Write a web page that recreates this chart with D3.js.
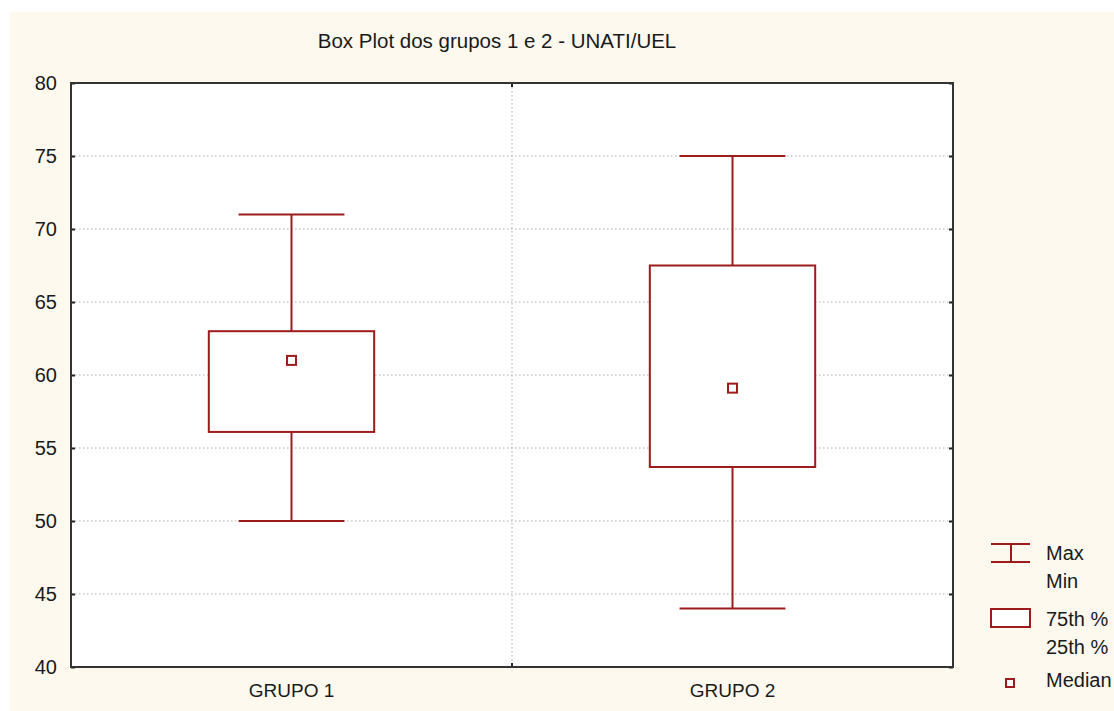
<!DOCTYPE html>
<html><head><meta charset="utf-8">
<script src="https://cdn.jsdelivr.net/npm/d3@7"></script>
<style>body{margin:0;background:#fff}svg{display:block}text{font-family:"Liberation Sans",Arial,sans-serif;fill:#1a1a1a}</style>
</head><body>
<script>
const title = "Box Plot dos grupos 1 e 2 - UNATI/UEL";
const categories = ["GRUPO 1", "GRUPO 2"];
const maxVals = [71, 75];
const q3Vals = [63, 67.5];
const medianVals = [61, 59.1];
const q1Vals = [56.1, 53.7];
const minVals = [50, 44];
const yTicks = [40, 45, 50, 55, 60, 65, 70, 75, 80];
const legendLabels = [["Max", "Min"], ["75th %", "25th %"], ["Median"]];

const W = 1114, H = 711;
const red = "#9e1b1b";
const svg = d3.select("body").append("svg").attr("width", W).attr("height", H);
svg.append("rect").attr("x", 10).attr("y", 12).attr("width", W - 10).attr("height", H - 12).attr("fill", "#fdf9ef");

const m = {l: 71, t: 83, r: 953, b: 667};
const y = d3.scaleLinear().domain([40, 80]).range([m.b, m.t]);
const x = d3.scaleBand().domain(categories).range([m.l, m.r]);

svg.append("rect").attr("x", m.l).attr("y", m.t).attr("width", m.r - m.l).attr("height", m.b - m.t).attr("fill", "#fff");

// grid
svg.append("g").selectAll("line").data(yTicks.slice(1, -1)).join("line")
  .attr("x1", m.l).attr("x2", m.r).attr("y1", d => y(d)).attr("y2", d => y(d))
  .attr("stroke", "#adadad").attr("stroke-width", 1).attr("stroke-dasharray", "1.5,2.5");
svg.append("line").attr("x1", m.l + x.step()).attr("x2", m.l + x.step()).attr("y1", m.t).attr("y2", m.b)
  .attr("stroke", "#adadad").attr("stroke-width", 1).attr("stroke-dasharray", "1.5,2.5");

// axes
const yAxis = svg.append("g").attr("transform", `translate(${m.l},0)`)
  .call(d3.axisLeft(y).tickValues(yTicks).tickSize(-4).tickPadding(14));
yAxis.select(".domain").remove();
yAxis.selectAll("text").style("font-size", "20px").attr("fill", "#1a1a1a");
yAxis.selectAll("line").attr("stroke", "#222").attr("stroke-width", 2);
const yAxisR = svg.append("g").attr("transform", `translate(${m.r},0)`)
  .call(d3.axisRight(y).tickValues(yTicks).tickSize(-4).tickFormat(""));
yAxisR.select(".domain").remove();
yAxisR.selectAll("line").attr("stroke", "#222").attr("stroke-width", 2);

const xAxis = svg.append("g").attr("transform", `translate(0,${m.b})`)
  .call(d3.axisBottom(x).tickSize(0).tickPadding(17));
xAxis.select(".domain").remove();
xAxis.selectAll("text").style("font-size", "19px").attr("fill", "#1a1a1a");
[m.t, m.b].forEach((yy, i) => {
  svg.append("line").attr("x1", m.l + x.step()).attr("x2", m.l + x.step())
    .attr("y1", yy).attr("y2", i ? yy - 4 : yy + 4).attr("stroke", "#222").attr("stroke-width", 2);
});

svg.append("rect").attr("x", m.l).attr("y", m.t).attr("width", m.r - m.l).attr("height", m.b - m.t)
  .attr("fill", "none").attr("stroke", "#333").attr("stroke-width", 2);

// boxes
const data = categories.map((c, i) => ({c, max: maxVals[i], q3: q3Vals[i], med: medianVals[i], q1: q1Vals[i], min: minVals[i]}));
const bw = x.bandwidth() * 0.375, cw = x.bandwidth() * 0.24;
const g = svg.append("g").attr("stroke", red).attr("stroke-width", 2).attr("fill", "none");
data.forEach(d => {
  const cx = x(d.c) + x.bandwidth() / 2;
  g.append("line").attr("x1", cx).attr("x2", cx).attr("y1", y(d.max)).attr("y2", y(d.q3));
  g.append("line").attr("x1", cx).attr("x2", cx).attr("y1", y(d.q1)).attr("y2", y(d.min));
  g.append("line").attr("x1", cx - cw / 2).attr("x2", cx + cw / 2).attr("y1", y(d.max)).attr("y2", y(d.max));
  g.append("line").attr("x1", cx - cw / 2).attr("x2", cx + cw / 2).attr("y1", y(d.min)).attr("y2", y(d.min));
  g.append("rect").attr("x", cx - bw / 2).attr("y", y(d.q3)).attr("width", bw).attr("height", y(d.q1) - y(d.q3)).attr("fill", "#fff");
  g.append("rect").attr("x", cx - 4.5).attr("y", y(d.med) - 4.5).attr("width", 9).attr("height", 9).attr("fill", "#fff");
});

// title
svg.append("text").attr("x", 497).attr("y", 48).attr("text-anchor", "middle").style("font-size", "20.5px").text(title);

// legend
const lg = svg.append("g").attr("stroke", red).attr("stroke-width", 2).attr("fill", "none");
lg.append("line").attr("x1", 991).attr("x2", 1030).attr("y1", 544).attr("y2", 544);
lg.append("line").attr("x1", 991).attr("x2", 1030).attr("y1", 562).attr("y2", 562);
lg.append("line").attr("x1", 1011).attr("x2", 1011).attr("y1", 544).attr("y2", 562);
lg.append("rect").attr("x", 991).attr("y", 609).attr("width", 39).attr("height", 18).attr("fill", "#fff");
lg.append("rect").attr("x", 1006).attr("y", 679).attr("width", 8).attr("height", 8).attr("fill", "#fff");
const lt = [[legendLabels[0][0], 560], [legendLabels[0][1], 588], [legendLabels[1][0], 626], [legendLabels[1][1], 654], [legendLabels[2][0], 687]];
svg.append("g").selectAll("text").data(lt).join("text")
  .attr("x", 1046).attr("y", d => d[1]).style("font-size", "20px").text(d => d[0]);
</script>
</body></html>
